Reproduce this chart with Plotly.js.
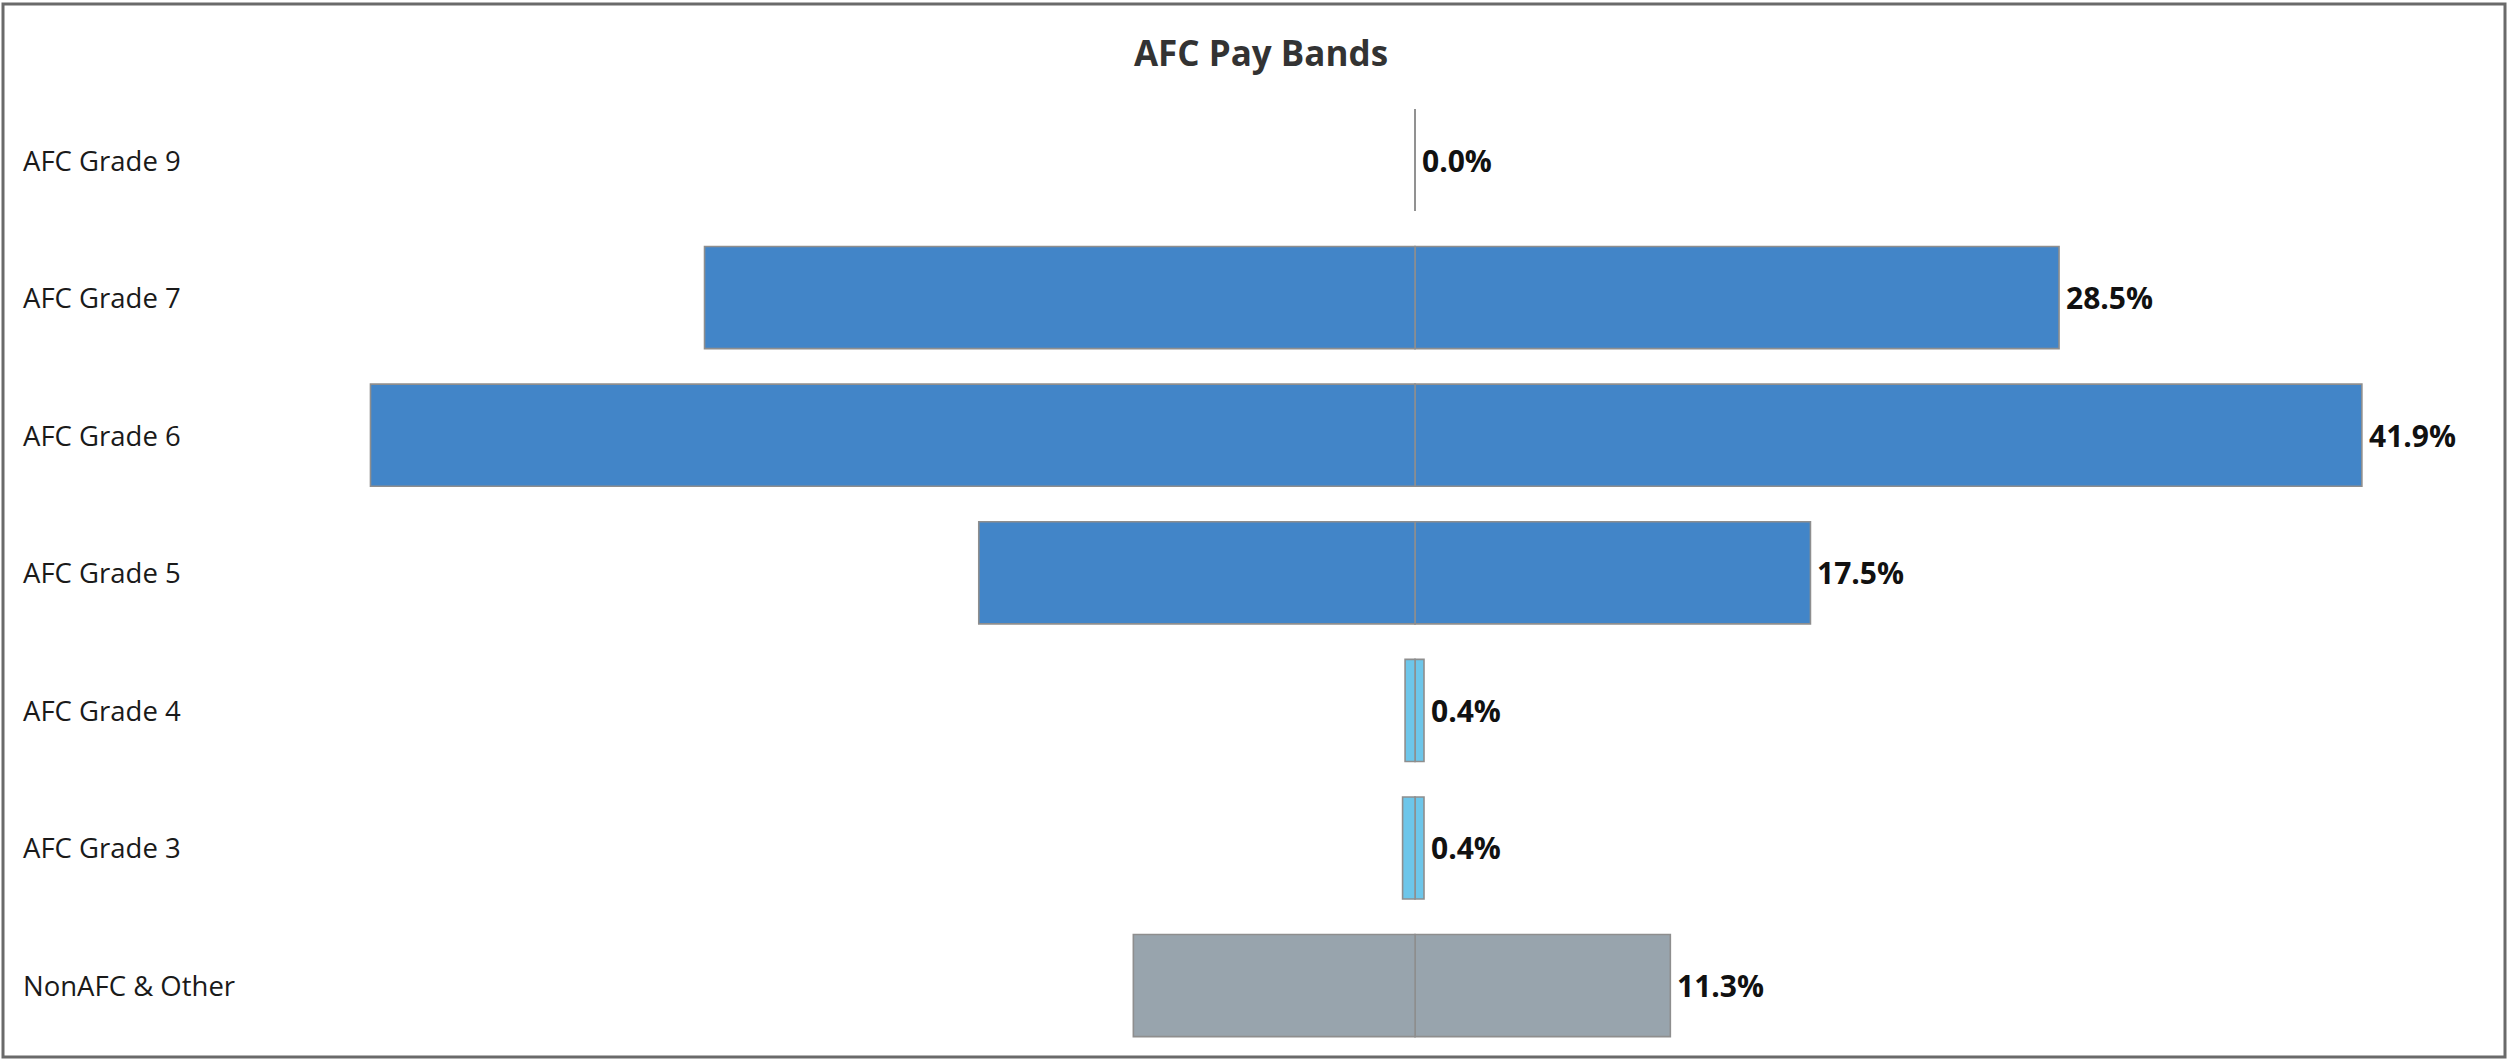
<!DOCTYPE html>
<html>
<head>
<meta charset="utf-8">
<script src="https://cdn.plot.ly/plotly-3.0.1.min.js"></script>
<style>
  html, body { margin: 0; padding: 0; background: #ffffff; }
  #chart { width: 2509px; height: 1060px; }
</style>
</head>
<body>
<div id="chart"></div>
<script>
// ---- data ----
const categories = ["AFC Grade 9", "AFC Grade 7", "AFC Grade 6", "AFC Grade 5", "AFC Grade 4", "AFC Grade 3", "NonAFC & Other"];
const shareRight = [0.0, 28.5, 41.9, 17.5, 0.4, 0.4, 11.3];   // labelled share (%), right half
const shareLeft  = [0.0, 28.5, 41.9, 17.5, 0.4, 0.5, 11.3];   // mirrored half (drawn on its own axis scale)
const groups = ["upper", "upper", "upper", "upper", "lower", "lower", "other"];
const titleText = "AFC Pay Bands";

// ---- styling ----
const groupColor = { upper: "#4285c8", lower: "#6dc6ea", other: "#98a4ad" };
const barColors = groups.map(g => groupColor[g]);
const lineStyle = { color: "#8e8e8e", width: 1.6 };
const barWidth = 0.742;

const traces = [
  {
    type: "bar", orientation: "h",
    y: categories, x: shareRight,
    xaxis: "x", yaxis: "y",
    width: barWidth,
    marker: { color: barColors, line: lineStyle },
    hoverinfo: "y+x", showlegend: false
  },
  {
    type: "bar", orientation: "h",
    y: categories, x: shareLeft.map(v => -v),
    xaxis: "x2", yaxis: "y",
    width: barWidth,
    marker: { color: barColors, line: lineStyle },
    hoverinfo: "y", showlegend: false
  }
];

const annotations = [];
categories.forEach((c, i) => {
  annotations.push({
    xref: "paper", yref: "y", x: 21 / 2509, y: c,
    xanchor: "left", yanchor: "middle", showarrow: false,
    text: c, font: { family: "Open Sans, sans-serif", size: 27.5, color: "#1a1a1a" }
  });
  annotations.push({
    xref: "x", yref: "y", x: shareRight[i], y: c,
    xanchor: "left", yanchor: "middle", xshift: 5, showarrow: false,
    text: "<b>" + shareRight[i].toFixed(1) + "%</b>",
    font: { family: "Open Sans, sans-serif", size: 30, color: "#111111" }
  });
});

const layout = {
  width: 2509, height: 1060,
  margin: { l: 0, r: 0, t: 0, b: 0, pad: 0 },
  paper_bgcolor: "#ffffff", plot_bgcolor: "#ffffff",
  barmode: "overlay",
  title: {
    text: "<b>" + titleText + "</b>",
    x: 1261 / 2509, xanchor: "center",
    y: 1 - 54 / 1060, yanchor: "middle",
    font: { family: "Open Sans, sans-serif", size: 35, color: "#333333" }
  },
  xaxis: {
    range: [-62.61, 48.41], showgrid: false, zeroline: false,
    showticklabels: false, showline: false, ticks: "", fixedrange: true
  },
  xaxis2: {
    range: [-56.76, 43.88], overlaying: "x", showgrid: false, zeroline: false,
    showticklabels: false, showline: false, ticks: "", fixedrange: true
  },
  yaxis: {
    type: "category", range: [6.541, -1.163], showgrid: false, zeroline: false,
    showticklabels: false, showline: false, ticks: "", fixedrange: true
  },
  annotations: annotations,
  shapes: [{
    type: "rect", xref: "paper", yref: "paper",
    x0: 3 / 2509, x1: 2505 / 2509, y0: 1 - 1057 / 1060, y1: 1 - 4 / 1060,
    line: { color: "#6a6a6a", width: 3 }, fillcolor: "rgba(0,0,0,0)"
  }]
};

Plotly.newPlot("chart", traces, layout, { displayModeBar: false, staticPlot: true });
</script>
</body>
</html>
